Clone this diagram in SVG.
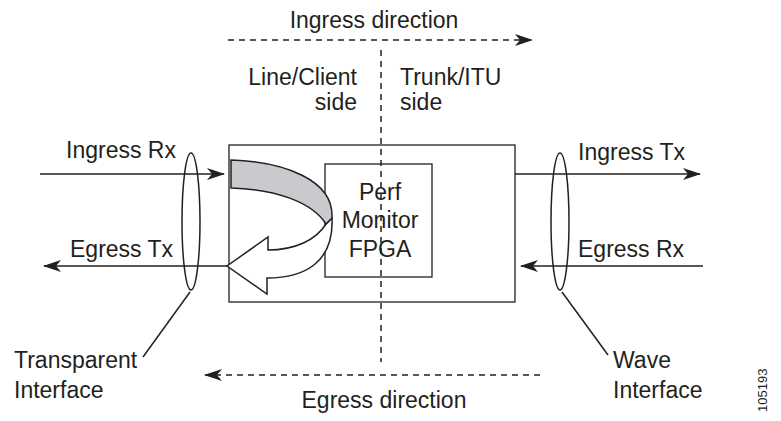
<svg xmlns="http://www.w3.org/2000/svg" width="781" height="421" viewBox="0 0 781 421">
  <style>
    .t { font-family: "Liberation Sans", Arial, sans-serif; font-size: 23px; fill: #231f20; }
    .ln { stroke: #231f20; stroke-width: 1.5; fill: none; }
    .dash { stroke: #231f20; stroke-width: 1.5; fill: none; stroke-dasharray: 6 5; }
    .box { stroke: #231f20; stroke-width: 1.3; fill: #ffffff; }
  </style>
  <defs>
    <marker id="ah" viewBox="0 0 18 12" markerWidth="18" markerHeight="12" refX="17" refY="6" orient="auto" markerUnits="userSpaceOnUse">
      <path d="M0,0 L18,6 L0,12 L5,6 Z" fill="#231f20"/>
    </marker>
  </defs>
  <rect width="781" height="421" fill="#ffffff"/>

  <!-- main card -->
  <g id="card">
    <rect class="box" x="229" y="145" width="286" height="157"/>
  </g>

  <!-- FPGA block -->
  <g id="fpga">
    <rect class="box" x="325" y="164" width="107" height="113"/>
    <text class="t" x="380" y="200" text-anchor="middle">Perf</text>
    <text class="t" x="380" y="228" text-anchor="middle">Monitor</text>
    <text class="t" x="380" y="257" text-anchor="middle">FPGA</text>
  </g>

  <!-- loop-back ribbon arrow -->
  <g id="loopback">
    <path d="M267,278 C305,278 334,262 332,218 L326,224 C316,240 295,250 268,250 L268,237 L227,266 L267,294 Z" fill="#ffffff" stroke="#231f20" stroke-width="1.5" stroke-linejoin="miter"/>
    <path d="M231,160 C285,162 334,180 332,218 L326,224 C312,202 275,189 231,188 Z" fill="#c9cacd" stroke="#231f20" stroke-width="1.5"/>
  </g>

  <!-- interface ellipses -->
  <g id="transparent-if">
    <ellipse class="ln" cx="191" cy="221.5" rx="9" ry="68.5"/>
    <line class="ln" x1="190" y1="292" x2="143" y2="357"/>
    <text class="t" x="14" y="368">Transparent</text>
    <text class="t" x="14" y="398">Interface</text>
  </g>
  <g id="wave-if">
    <ellipse class="ln" cx="560" cy="221.5" rx="9" ry="68.5"/>
    <line class="ln" x1="562" y1="292" x2="608" y2="355"/>
    <text class="t" x="613" y="368">Wave</text>
    <text class="t" x="613" y="398">Interface</text>
  </g>

  <!-- connectors -->
  <g id="connectors">
    <line class="ln" x1="40" y1="174" x2="224" y2="174" marker-end="url(#ah)"/>
    <line class="ln" x1="227" y1="266" x2="44" y2="266" marker-end="url(#ah)"/>
    <line class="ln" x1="515" y1="174" x2="700" y2="174" marker-end="url(#ah)"/>
    <line class="ln" x1="703" y1="266" x2="521" y2="266" marker-end="url(#ah)"/>
    <line class="dash" x1="228" y1="40" x2="532" y2="40" marker-end="url(#ah)"/>
    <line class="dash" x1="540" y1="375" x2="205" y2="375" marker-end="url(#ah)"/>
    <line class="dash" x1="381" y1="50" x2="381" y2="362" stroke-dasharray="5 4"/>
  </g>

  <!-- labels -->
  <g id="labels">
    <text class="t" x="66" y="158">Ingress Rx</text>
    <text class="t" x="70" y="257">Egress Tx</text>
    <text class="t" x="578" y="160">Ingress Tx</text>
    <text class="t" x="578" y="257">Egress Rx</text>
    <text class="t" x="374" y="28" text-anchor="middle">Ingress direction</text>
    <text class="t" x="384" y="408" text-anchor="middle">Egress direction</text>
    <text class="t" x="357" y="85" text-anchor="end">Line/Client</text>
    <text class="t" x="357" y="110" text-anchor="end">side</text>
    <text class="t" x="400" y="85">Trunk/ITU</text>
    <text class="t" x="400" y="110">side</text>
    <text x="767" y="412" transform="rotate(-90 767 412)" font-family="Liberation Sans, Arial, sans-serif" font-size="13" fill="#231f20">105193</text>
  </g>
</svg>
